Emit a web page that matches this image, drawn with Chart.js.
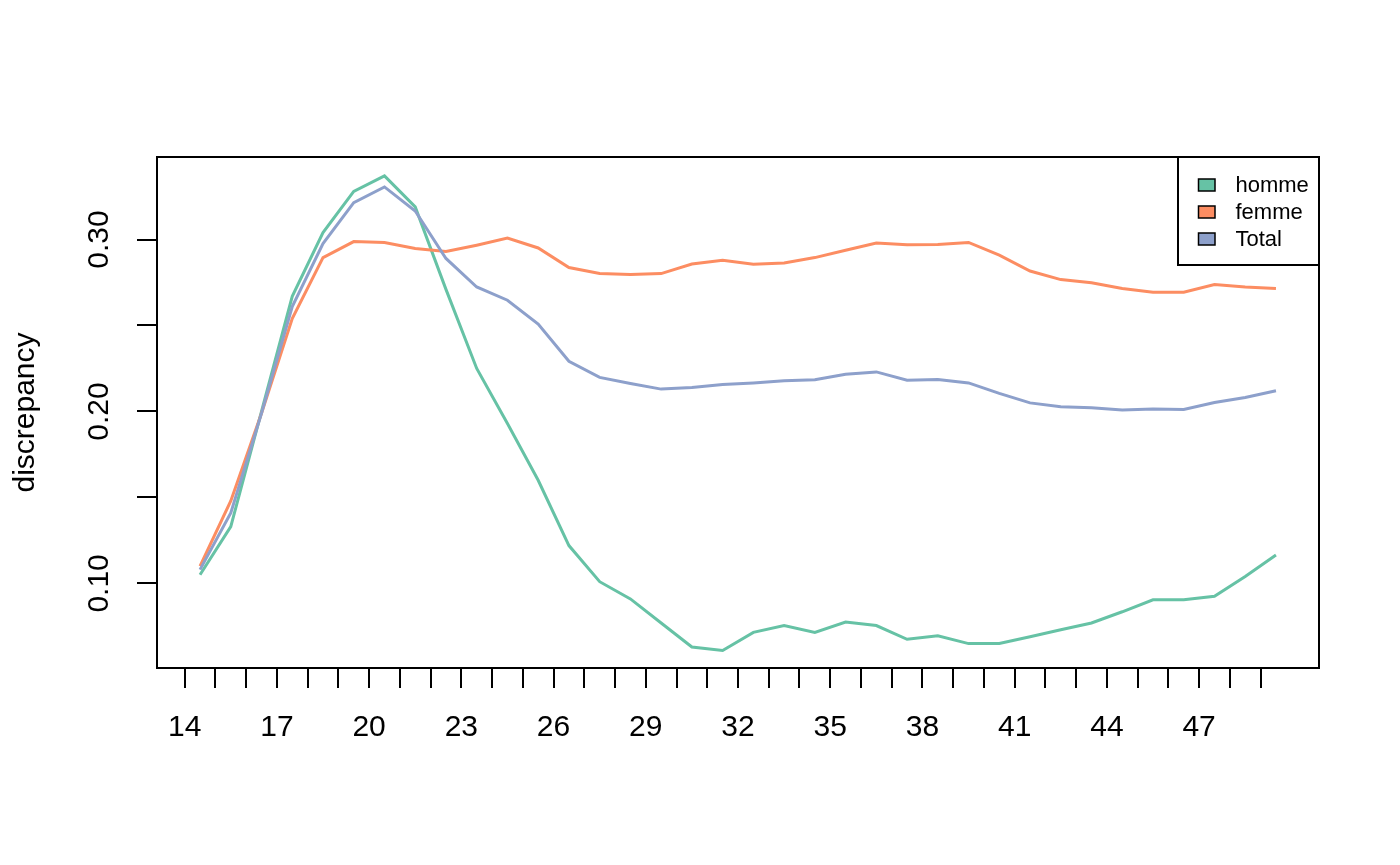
<!DOCTYPE html>
<html>
<head>
<meta charset="utf-8">
<script src="https://cdn.jsdelivr.net/npm/chart.js@4"></script>
<style>
  html, body { margin: 0; padding: 0; background: #fff; }
  canvas { display: block; }
</style>
</head>
<body>
<canvas id="chart" width="1400" height="865"></canvas>
<script>
// ages (mid points of each year)
const ages = [14.5, 15.5, 16.5, 17.5, 18.5, 19.5, 20.5, 21.5, 22.5, 23.5, 24.5, 25.5,
              26.5, 27.5, 28.5, 29.5, 30.5, 31.5, 32.5, 33.5, 34.5, 35.5, 36.5, 37.5,
              38.5, 39.5, 40.5, 41.5, 42.5, 43.5, 44.5, 45.5, 46.5, 47.5, 48.5, 49.5];

const homme = [0.105, 0.133, 0.200, 0.267, 0.304, 0.328, 0.337, 0.319, 0.271, 0.225, 0.193, 0.160,
               0.122, 0.101, 0.091, 0.077, 0.063, 0.061, 0.0715, 0.0755, 0.0715, 0.0775, 0.0755, 0.0675,
               0.0695, 0.065, 0.065, 0.069, 0.073, 0.077, 0.0835, 0.0905, 0.0905, 0.0925, 0.104, 0.1165];

const femme = [0.110, 0.148, 0.199, 0.254, 0.2895, 0.2988, 0.2983, 0.2948, 0.293, 0.2967, 0.3008, 0.2951,
               0.2837, 0.2802, 0.2797, 0.2802, 0.2858, 0.288, 0.2856, 0.2864, 0.2895, 0.2938, 0.298, 0.2969,
               0.2971, 0.2983, 0.2909, 0.2817, 0.2767, 0.2748, 0.2715, 0.2694, 0.2694, 0.2738, 0.2724, 0.2715];

const total = [0.108, 0.141, 0.199, 0.261, 0.2977, 0.3215, 0.3306, 0.3166, 0.289, 0.2724, 0.2647, 0.2508,
               0.2292, 0.2198, 0.2163, 0.213, 0.214, 0.2157, 0.2166, 0.2178, 0.2184, 0.2217, 0.223, 0.2182,
               0.2186, 0.2166, 0.2105, 0.205, 0.2027, 0.2021, 0.2008, 0.2015, 0.2012, 0.2052, 0.2081, 0.212];

const seriesNames = ['homme', 'femme', 'Total'];
const seriesColors = ['#66C2A5', '#FC8D62', '#8DA0CB'];

const xTicks = [14, 15, 16, 17, 18, 19, 20, 21, 22, 23, 24, 25, 26, 27, 28, 29, 30, 31,
                32, 33, 34, 35, 36, 37, 38, 39, 40, 41, 42, 43, 44, 45, 46, 47, 48, 49];
const xLabelled = [14, 17, 20, 23, 26, 29, 32, 35, 38, 41, 44, 47];
const yTicks = [0.10, 0.15, 0.20, 0.25, 0.30];
const yLabelled = ['0.10', '0.20', '0.30'];

const FONT = "'Liberation Sans', Arial, Helvetica, sans-serif";

function toPoints(values) {
    return ages.map((a, i) => ({ x: a, y: values[i] }));
}

// plot frame, R style box
const frame = {
    id: 'frame',
    afterDraw(chart) {
        const { ctx, chartArea: a } = chart;
        ctx.save();
        ctx.strokeStyle = '#000';
        ctx.lineWidth = 2;
        ctx.strokeRect(a.left, a.top, a.right - a.left, a.bottom - a.top);
        ctx.restore();
    }
};

// legend box in the top right corner of the plot
const boxLegend = {
    id: 'boxLegend',
    afterDraw(chart) {
        const { ctx, chartArea: a } = chart;
        const w = 141, h = 108;
        const left = a.right - w;
        ctx.save();
        ctx.strokeStyle = '#000';
        ctx.lineWidth = 2;
        ctx.strokeRect(left, a.top, w, h);
        ctx.font = '22px ' + FONT;
        ctx.textBaseline = 'middle';
        ctx.textAlign = 'left';
        chart.data.datasets.forEach((ds, i) => {
            const cy = a.top + 28 + i * 27;
            ctx.fillStyle = ds.borderColor;
            ctx.fillRect(left + 20.5, cy - 6, 16.5, 12);
            ctx.lineWidth = 1.5;
            ctx.strokeRect(left + 20.5, cy - 6, 16.5, 12);
            ctx.fillStyle = '#000';
            ctx.fillText(ds.label, left + 57.5, cy + 1);
        });
        ctx.restore();
    }
};

const ctx = document.getElementById('chart');

new Chart(ctx, {
    type: 'line',
    data: {
        datasets: [homme, femme, total].map((vals, i) => ({
            label: seriesNames[i],
            data: toPoints(vals),
            borderColor: seriesColors[i],
            backgroundColor: seriesColors[i],
            borderWidth: 3,
            pointRadius: 0,
            tension: 0,
            fill: false,
            order: 3 - i
        }))
    },
    options: {
        responsive: false,
        animation: false,
        layout: { padding: { top: 157, right: 81, left: 0, bottom: 0 } },
        plugins: {
            legend: { display: false },
            tooltip: { enabled: false }
        },
        scales: {
            x: {
                type: 'linear',
                min: 13.1,
                max: 50.9,
                afterBuildTicks: (scale) => { scale.ticks = xTicks.map(v => ({ value: v })); },
                afterFit: (scale) => { scale.height = 197; },
                border: { display: false },
                grid: { drawOnChartArea: false, tickLength: 20, color: '#000', lineWidth: 2 },
                ticks: {
                    autoSkip: false,
                    maxRotation: 0,
                    padding: 22,
                    color: '#000',
                    font: { family: FONT, size: 30 },
                    callback: (v) => xLabelled.includes(v) ? String(v) : ''
                }
            },
            y: {
                type: 'linear',
                min: 0.0508,
                max: 0.348,
                afterBuildTicks: (scale) => { scale.ticks = yTicks.map(v => ({ value: v })); },
                afterFit: (scale) => { scale.width = 157; },
                border: { display: false },
                grid: { drawOnChartArea: false, tickLength: 20, color: '#000', lineWidth: 2 },
                title: {
                    display: true,
                    text: 'discrepancy',
                    color: '#000',
                    font: { family: FONT, size: 30 },
                    padding: { top: 8, bottom: 0 }
                },
                ticks: {
                    minRotation: 90,
                    maxRotation: 90,
                    crossAlign: 'center',
                    padding: 8,
                    color: '#000',
                    font: { family: FONT, size: 30 },
                    callback: (v) => {
                        const s = v.toFixed(2);
                        return yLabelled.includes(s) ? s : '';
                    }
                }
            }
        }
    },
    plugins: [frame, boxLegend]
});
</script>
</body>
</html>
